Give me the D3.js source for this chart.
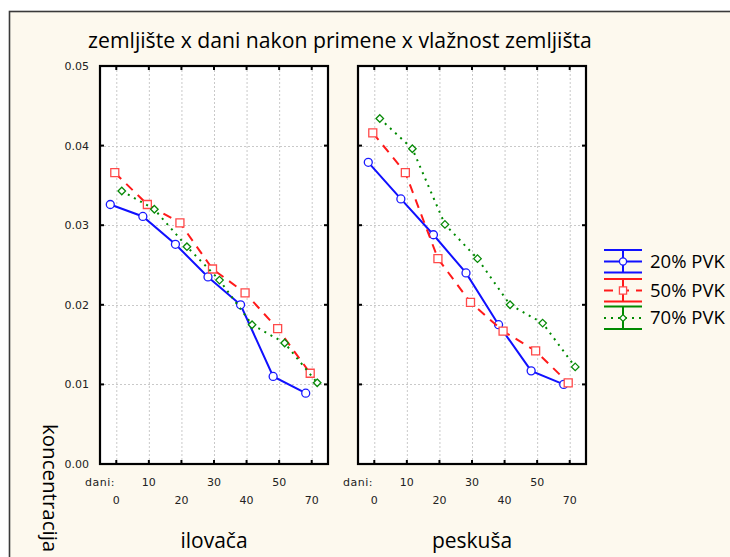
<!DOCTYPE html>
<html>
<head>
<meta charset="utf-8">
<script src="https://cdn.jsdelivr.net/npm/d3@7"></script>
<style>
  html, body { margin: 0; padding: 0; background: #ffffff; }
  svg { display: block; }
</style>
</head>
<body>
<script>
// Concentration over time after application, by soil type and soil moisture
const days = ["0", "10", "20", "30", "40", "50", "70"];
const soils = ["ilovača", "peskuša"];
const moistureLevels = ["20% PVK", "50% PVK", "70% PVK"];
const yTicks = [0, 0.01, 0.02, 0.03, 0.04, 0.05];

// ilovača (loam)
const ilovaca20 = [0.0326, 0.0311, 0.0276, 0.0235, 0.0200, 0.0110, 0.0089];
const ilovaca50 = [0.0366, 0.0326, 0.0303, 0.0245, 0.0215, 0.0170, 0.0114];
const ilovaca70 = [0.0343, 0.0320, 0.0273, 0.0231, 0.0175, 0.0152, 0.0102];
// peskuša (sandy soil)
const peskusa20 = [0.0379, 0.0333, 0.0288, 0.0240, 0.0175, 0.0117, 0.0100];
const peskusa50 = [0.0416, 0.0366, 0.0258, 0.0203, 0.0167, 0.0142, 0.0102];
const peskusa70 = [0.0434, 0.0396, 0.0301, 0.0258, 0.0200, 0.0177, 0.0122];

const soilValues = [
  [ilovaca20, ilovaca50, ilovaca70],
  [peskusa20, peskusa50, peskusa70]
];

const W = 730, H = 557;
const svg = d3.select("body").append("svg").attr("width", W).attr("height", H);

const labelFont = "'Open Sans', 'Noto Sans', sans-serif";
const tickFont = "'DejaVu Sans', Verdana, sans-serif";

// outer frame
svg.append("rect").attr("x", 9.5).attr("y", 11.5).attr("width", W + 20).attr("height", H + 20)
  .attr("fill", "#fdf9ee").attr("stroke", "#3a3a3a").attr("stroke-width", 1.6);

svg.append("text")
  .attr("x", 340).attr("y", 48)
  .attr("text-anchor", "middle")
  .attr("font-family", labelFont)
  .attr("font-size", 21.2)
  .attr("fill", "#000")
  .text("zemljište x dani nakon primene x vlažnost zemljišta");

const plotTop = 66, plotBottom = 464;
const y = d3.scaleLinear().domain([0, 0.05]).range([plotBottom, plotTop]);

const panels = [
  { x0: 100, x1: 328 },
  { x0: 358, x1: 586 }
];

const styles = [
  { color: "#1010ff", marker: "#1a1aff", dash: null, symbol: d3.symbolCircle, size: 50, dx: -6 },
  { color: "#ff1a1a", marker: "#ff4a4a", dash: "9,7", symbol: d3.symbolSquare, size: 64, dx: -1.5 },
  { color: "#008a00", marker: "#078a07", dash: "2,5", symbol: d3.symbolDiamond2, size: 36, dx: 5.5 }
];

panels.forEach((p, pi) => {
  const x = d3.scalePoint().domain(days).range([p.x0, p.x1]).padding(0.5);
  const g = svg.append("g");

  g.append("rect").attr("x", p.x0).attr("y", plotTop)
    .attr("width", p.x1 - p.x0).attr("height", plotBottom - plotTop).attr("fill", "#ffffff");

  // grid
  g.selectAll(".vgrid").data(days).join("line")
    .attr("x1", d => x(d) + 0.5).attr("x2", d => x(d) + 0.5)
    .attr("y1", plotTop).attr("y2", plotBottom)
    .attr("stroke", "#c9c9c9").attr("stroke-width", 1).attr("stroke-dasharray", "2,2");
  g.selectAll(".hgrid").data(yTicks.slice(1, -1)).join("line")
    .attr("x1", p.x0).attr("x2", p.x1)
    .attr("y1", d => Math.round(y(d)) + 0.5).attr("y2", d => Math.round(y(d)) + 0.5)
    .attr("stroke", "#c9c9c9").attr("stroke-width", 1).attr("stroke-dasharray", "2,2");

  // inward ticks on all sides
  const tl = 4;
  days.forEach(d => {
    g.append("line").attr("x1", x(d)).attr("x2", x(d)).attr("y1", plotTop).attr("y2", plotTop + tl)
      .attr("stroke", "#000").attr("stroke-width", 2);
    g.append("line").attr("x1", x(d)).attr("x2", x(d)).attr("y1", plotBottom).attr("y2", plotBottom - tl)
      .attr("stroke", "#000").attr("stroke-width", 2);
  });
  yTicks.forEach(v => {
    g.append("line").attr("x1", p.x0).attr("x2", p.x0 + tl).attr("y1", y(v)).attr("y2", y(v))
      .attr("stroke", "#000").attr("stroke-width", 2);
    g.append("line").attr("x1", p.x1).attr("x2", p.x1 - tl).attr("y1", y(v)).attr("y2", y(v))
      .attr("stroke", "#000").attr("stroke-width", 2);
  });

  g.append("rect").attr("x", p.x0).attr("y", plotTop)
    .attr("width", p.x1 - p.x0).attr("height", plotBottom - plotTop)
    .attr("fill", "none").attr("stroke", "#000").attr("stroke-width", 2.2);

  // y tick labels on the left panel only
  if (pi === 0) {
    g.selectAll(".ylab").data(yTicks).join("text")
      .attr("x", p.x0 - 11).attr("y", d => y(d) + 4)
      .attr("text-anchor", "end")
      .attr("font-family", tickFont).attr("font-size", 11).attr("fill", "#222")
      .text(d => d3.format(".2f")(d));
  }

  // x tick labels, staggered over two rows
  g.append("text").attr("x", p.x0 - 15).attr("y", 486)
    .attr("font-family", tickFont).attr("font-size", 11).attr("fill", "#222")
    .attr("letter-spacing", 0.5)
    .text("dani:");
  g.selectAll(".xlab").data(days).join("text")
    .attr("x", d => x(d)).attr("y", (d, i) => i % 2 === 1 ? 486 : 504)
    .attr("text-anchor", "middle")
    .attr("font-family", tickFont).attr("font-size", 11).attr("fill", "#222")
    .text(d => d);

  g.append("text").attr("x", (p.x0 + p.x1) / 2).attr("y", 548)
    .attr("text-anchor", "middle")
    .attr("font-family", labelFont)
    .attr("font-size", 21).attr("fill", "#000")
    .text(soils[pi]);

  // series lines and markers
  soilValues[pi].forEach((vals, si) => {
    const s = styles[si];
    const pts = vals.map((v, i) => [x(days[i]) + s.dx, y(v)]);
    g.append("path")
      .attr("d", d3.line()(pts))
      .attr("fill", "none").attr("stroke", s.color).attr("stroke-width", 2)
      .attr("stroke-dasharray", s.dash);
    g.selectAll(".m" + si).data(pts).join("path")
      .attr("transform", d => `translate(${d[0]},${d[1]})`)
      .attr("d", d3.symbol().type(s.symbol).size(s.size))
      .attr("fill", "#ffffff").attr("stroke", s.marker).attr("stroke-width", 1.3);
  });
});

// y axis title
svg.append("text")
  .attr("transform", "translate(43,424) rotate(90)")
  .attr("font-family", labelFont)
  .attr("font-size", 20.5).attr("fill", "#000")
  .text("koncentracija");

// legend
const legTop = [250, 279, 306.5];
const lx0 = 604, lx1 = 642, lxm = 623;
moistureLevels.forEach((name, i) => {
  const s = styles[i];
  const t = legTop[i], m = t + 11.5, b = t + 22.5;
  const lg = svg.append("g");
  lg.append("line").attr("x1", lx0).attr("x2", lx1).attr("y1", t).attr("y2", t)
    .attr("stroke", s.color).attr("stroke-width", 2);
  lg.append("line").attr("x1", lx0).attr("x2", lx1).attr("y1", b).attr("y2", b)
    .attr("stroke", s.color).attr("stroke-width", 2);
  lg.append("line").attr("x1", lxm).attr("x2", lxm).attr("y1", t).attr("y2", b)
    .attr("stroke", s.color).attr("stroke-width", 2);
  lg.append("line").attr("x1", lx0).attr("x2", lx1).attr("y1", m).attr("y2", m)
    .attr("stroke", s.color).attr("stroke-width", 2).attr("stroke-dasharray", s.dash);
  lg.append("path").attr("transform", `translate(${lxm},${m})`)
    .attr("d", d3.symbol().type(s.symbol).size(s.size * 0.8))
    .attr("fill", "#ffffff").attr("stroke", s.marker).attr("stroke-width", 1.3);
  lg.append("text").attr("x", 650).attr("y", m + 6)
    .attr("font-family", labelFont)
    .attr("font-size", 18.5).attr("fill", "#000")
    .text(name);
});
</script>
</body>
</html>
